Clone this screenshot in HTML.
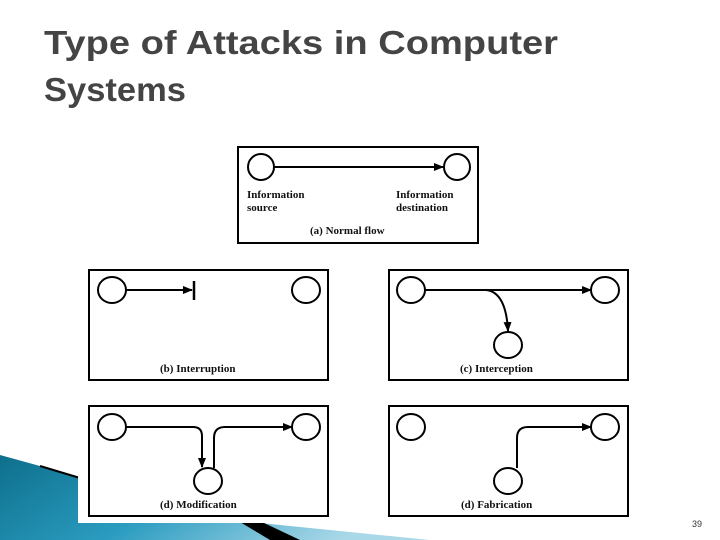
<!DOCTYPE html>
<html><head><meta charset="utf-8"><style>html,body{margin:0;padding:0;background:#fff}svg{display:block}</style></head><body>
<svg width="720" height="540" viewBox="0 0 720 540" xmlns="http://www.w3.org/2000/svg">
<defs>
<linearGradient id="sw" x1="0" y1="0" x2="1" y2="0.3">
<stop offset="0" stop-color="#0d6f8c"/><stop offset="0.5" stop-color="#2b9cc0"/><stop offset="1" stop-color="#a9d8e8"/>
</linearGradient>
<marker id="ah" markerWidth="10" markerHeight="8" refX="9" refY="4" orient="auto" markerUnits="userSpaceOnUse">
<path d="M0,0 L10,4 L0,8 Z" fill="#000"/></marker>
</defs>
<rect width="720" height="540" fill="#fff"/>
<polygon points="0,455 80,477 80,522 250,522 430,540 0,540" fill="url(#sw)"/>
<polygon points="240,522 262,522 300,540 270,540" fill="#000"/>
<line x1="40" y1="466" x2="80" y2="478" stroke="#000" stroke-width="2"/>
<rect x="78" y="140" width="560" height="383" fill="#fff"/>
<g font-family="Liberation Sans, sans-serif" font-weight="bold" fill="#444" font-size="33">
<text x="44" y="54" textLength="514" lengthAdjust="spacingAndGlyphs">Type of Attacks in Computer</text>
<text x="44" y="101" textLength="142" lengthAdjust="spacingAndGlyphs">Systems</text>
</g>
<g fill="none" stroke="#000" stroke-width="2">
<rect x="238" y="147" width="240" height="96"/>
<rect x="89" y="270" width="239" height="110"/>
<rect x="389" y="270" width="239" height="110"/>
<rect x="89" y="406" width="239" height="110"/>
<rect x="389" y="406" width="239" height="110"/>
<ellipse cx="261" cy="167" rx="13" ry="13"/><ellipse cx="457" cy="167" rx="13" ry="13"/>
<ellipse cx="112" cy="290" rx="14" ry="13"/><ellipse cx="306" cy="290" rx="14" ry="13"/>
<ellipse cx="411" cy="290" rx="14" ry="13"/><ellipse cx="605" cy="290" rx="14" ry="13"/><ellipse cx="508" cy="345" rx="14" ry="13"/>
<ellipse cx="112" cy="427" rx="14" ry="13"/><ellipse cx="306" cy="427" rx="14" ry="13"/><ellipse cx="208" cy="481" rx="14" ry="13"/>
<ellipse cx="411" cy="427" rx="14" ry="13"/><ellipse cx="605" cy="427" rx="14" ry="13"/><ellipse cx="508" cy="481" rx="14" ry="13"/>
<line x1="274" y1="167" x2="443" y2="167" marker-end="url(#ah)"/>
<line x1="126" y1="290" x2="192" y2="290" marker-end="url(#ah)"/>
<line x1="425" y1="290" x2="591" y2="290" marker-end="url(#ah)"/>
<path d="M486,290 Q506,292 508,331" marker-end="url(#ah)"/>
<path d="M126,427 L193,427 Q202,427 202,436 L202,467" marker-end="url(#ah)"/>
<path d="M214,468 L214,438 Q214,427 225,427 L292,427" marker-end="url(#ah)"/>
<path d="M517,468 L517,438 Q517,427 528,427 L591,427" marker-end="url(#ah)"/>
</g>
<line x1="194" y1="281" x2="194" y2="300" stroke="#000" stroke-width="2.5"/>
<g font-family="Liberation Serif, serif" font-weight="bold" font-size="11" fill="#111">
<text x="247" y="198">Information</text><text x="247" y="211">source</text>
<text x="396" y="198">Information</text><text x="396" y="211">destination</text>
<text x="310" y="234">(a) Normal flow</text>
<text x="160" y="372">(b) Interruption</text>
<text x="460" y="372">(c) Interception</text>
<text x="160" y="508">(d) Modification</text>
<text x="461" y="508">(d) Fabrication</text>
</g>
<text x="692" y="527" font-family="Liberation Sans, sans-serif" font-size="9" fill="#333">39</text>
</svg>
</body></html>
